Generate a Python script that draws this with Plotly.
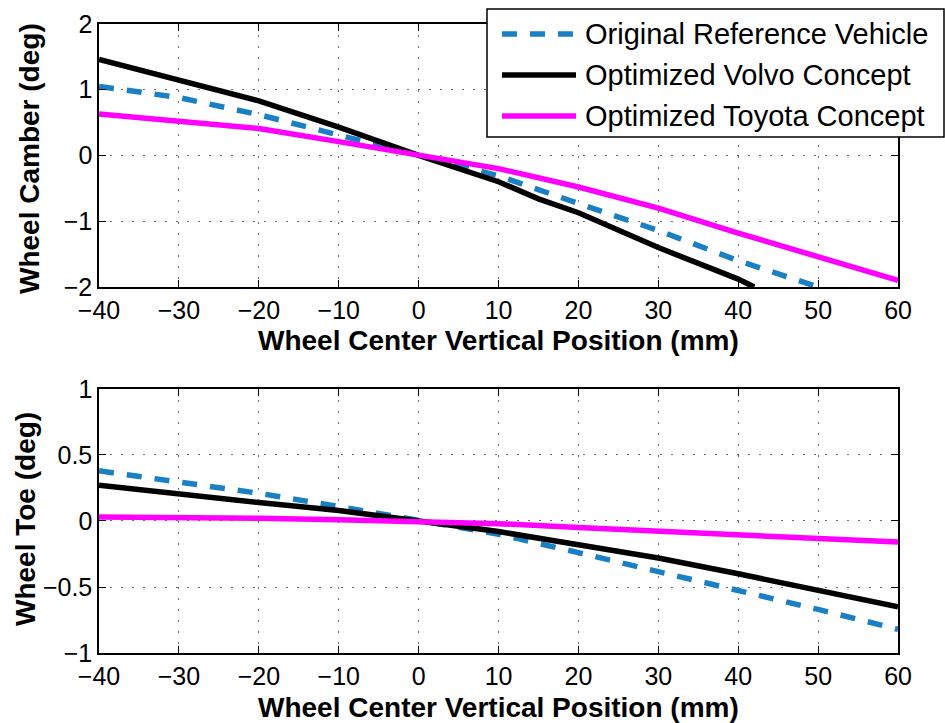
import plotly.graph_objects as go

# Wheel center vertical travel (mm)
travel = [-40, -30, -20, -10, 0, 10, 20, 30, 40, 50, 60]

# Camber curves (deg)
camber_ref_x = [-40, -30, -20, -10, 0, 10, 20, 30, 40, 50]
camber_ref = [1.05, 0.88, 0.62, 0.31, 0.0, -0.31, -0.73, -1.14, -1.60, -2.0]
camber_volvo_x = [-40, -30, -20, -10, 0, 10, 15, 20, 30, 40, 42]
camber_volvo = [1.46, 1.15, 0.83, 0.43, 0.0, -0.40, -0.66, -0.87, -1.40, -1.88, -2.0]
camber_toyota = [0.63, 0.53, 0.41, 0.21, 0.0, -0.20, -0.48, -0.80, -1.18, -1.55, -1.90]

# Toe curves (deg)
toe_ref = [0.38, 0.30, 0.21, 0.11, 0.0, -0.10, -0.24, -0.38, -0.53, -0.67, -0.82]
toe_volvo = [0.27, 0.20, 0.14, 0.08, 0.0, -0.08, -0.18, -0.28, -0.40, -0.53, -0.65]
toe_toyota = [0.03, 0.03, 0.02, 0.01, 0.0, -0.02, -0.05, -0.08, -0.10, -0.13, -0.16]

series_names = ["Original Reference Vehicle", "Optimized Volvo Concept", "Optimized Toyota Concept"]
x_ticks = [-40, -30, -20, -10, 0, 10, 20, 30, 40, 50, 60]
camber_ticks = [-2, -1, 0, 1, 2]
toe_ticks = [-1, -0.5, 0, 0.5, 1]

BLUE = "#1b80c3"
MAGENTA = "#ff00ff"
BLACK = "#000000"
DASH = "15px,13px"
LW = 5.5
FONT = "Liberation Sans, Arial, sans-serif"

fig = go.Figure()

def add_line(x, y, color, dash, xa, ya):
    fig.add_trace(go.Scatter(x=x, y=y, mode="lines", xaxis=xa, yaxis=ya,
                             line=dict(color=color, width=LW, dash=dash),
                             showlegend=False, hoverinfo="skip"))

add_line(camber_ref_x, camber_ref, BLUE, DASH, "x", "y")
add_line(camber_volvo_x, camber_volvo, BLACK, "solid", "x", "y")
add_line(travel, camber_toyota, MAGENTA, "solid", "x", "y")

add_line(travel, toe_ref, BLUE, DASH, "x2", "y2")
add_line(travel, toe_volvo, BLACK, "solid", "x2", "y2")
add_line(travel, toe_toyota, MAGENTA, "solid", "x2", "y2")

xdom = [0.1048, 0.9503]
axis_common = dict(
    showline=True, linecolor="black", linewidth=1.5, mirror="allticks",
    ticks="inside", ticklen=7, tickwidth=1, tickcolor="black",
    showgrid=True, gridcolor="#6f6f6f", gridwidth=1.2, griddash="2px,9px",
    zeroline=False, automargin=False,
    tickfont=dict(family=FONT, size=25, color="black"),
)

fig.update_layout(
    width=945, height=723,
    margin=dict(l=0, r=0, t=0, b=0),
    paper_bgcolor="white", plot_bgcolor="white",
    xaxis=dict(domain=xdom, anchor="y", range=[-40, 60], tickvals=x_ticks, **axis_common),
    yaxis=dict(domain=[0.603, 0.967], anchor="x", range=[-2, 2], tickvals=camber_ticks, **axis_common),
    xaxis2=dict(domain=xdom, anchor="y2", range=[-40, 60], tickvals=x_ticks, **axis_common),
    yaxis2=dict(domain=[0.0968, 0.462], anchor="x2", range=[-1, 1], tickvals=toe_ticks, **axis_common),
)

title_font = dict(family=FONT, size=28, color="black", weight="bold")
annotations = [
    dict(text="Wheel Center Vertical Position (mm)", x=0.527, y=1 - 340 / 723),
    dict(text="Wheel Center Vertical Position (mm)", x=0.527, y=1 - 707 / 723),
    dict(text="Wheel Camber (deg)", x=29 / 945, y=1 - 159 / 723, textangle=-90),
    dict(text="Wheel Toe (deg)", x=25 / 945, y=1 - 519 / 723, textangle=-90),
]
for a in annotations:
    fig.add_annotation(xref="paper", yref="paper", showarrow=False,
                       xanchor="center", yanchor="middle", font=title_font, **a)

# Legend box drawn in paper space
W, H = 945, 723
def px(xp):
    return xp / W
def py(yp):
    return 1 - yp / H

fig.add_shape(type="rect", xref="paper", yref="paper",
              x0=px(487), x1=px(944), y0=py(137), y1=py(9),
              line=dict(color="black", width=1.5), fillcolor="white", layer="above")
legend_styles = [(BLUE, DASH), (BLACK, "solid"), (MAGENTA, "solid")]
row_y = [34, 75, 116]
for name, (color, dash), yy in zip(series_names, legend_styles, row_y):
    fig.add_shape(type="line", xref="paper", yref="paper",
                  x0=px(502), x1=px(576), y0=py(yy), y1=py(yy),
                  line=dict(color=color, width=LW, dash=dash), layer="above")
    fig.add_annotation(xref="paper", yref="paper", x=px(583), y=py(yy),
                       text=name, showarrow=False, xanchor="left", yanchor="middle",
                       font=dict(family=FONT, size=29, color="black"))

fig.write_html("out.html")
